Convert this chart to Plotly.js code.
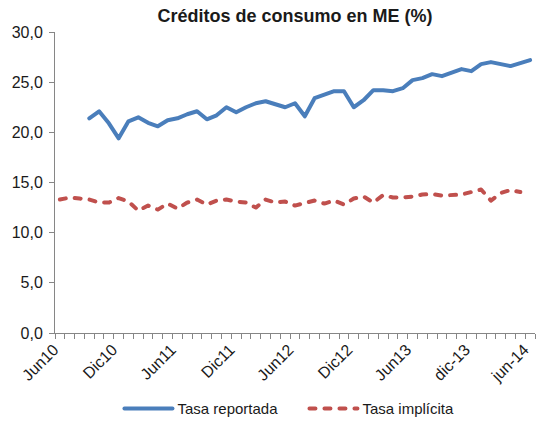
<!DOCTYPE html>
<html>
<head>
<meta charset="utf-8">
<script src="https://cdn.plot.ly/plotly-3.0.1.min.js"></script>
<style>html,body{margin:0;padding:0;background:#fff;}#chart{width:548px;height:429px;}</style>
</head>
<body>
<div id="chart"></div>
<script>
// Monthly categories, Jun 2010 – Jun 2014
var categories = [
  'Jun10','Jul10','Ago10','Sep10','Oct10','Nov10','Dic10',
  'Ene11','Feb11','Mar11','Abr11','May11','Jun11','Jul11','Ago11','Sep11','Oct11','Nov11','Dic11',
  'Ene12','Feb12','Mar12','Abr12','May12','Jun12','Jul12','Ago12','Sep12','Oct12','Nov12','Dic12',
  'Ene13','Feb13','Mar13','Abr13','May13','Jun13','Jul13','Ago13','Sep13','Oct13','Nov13','dic-13',
  'ene-14','feb-14','mar-14','abr-14','may-14','jun-14'
];
// Categories that carry a visible tick label
var labeledCategories = ['Jun10','Dic10','Jun11','Dic11','Jun12','Dic12','Jun13','dic-13','jun-14'];

var tasaReportada = [
  null, null, null, 21.4, 22.1, 20.9, 19.4,
  21.1, 21.5, 20.95, 20.6, 21.2, 21.4, 21.8, 22.1, 21.3, 21.7, 22.5, 22.0,
  22.5, 22.9, 23.1, 22.8, 22.5, 22.9, 21.6, 23.4, 23.7, 24.1, 24.1, 22.5,
  23.2, 24.2, 24.2, 24.1, 24.4, 25.2, 25.4, 25.8, 25.6, 25.9, 26.3, 26.1,
  26.8, 27.0, 26.8, 26.6, 26.9, 27.2
];
var tasaImplicita = [
  13.3, 13.5, 13.4, 13.3, 13.0, 13.0, 13.45,
  13.1, 12.2, 12.7, 12.3, 12.9, 12.4, 13.0, 13.3, 12.8, 13.2, 13.3, 13.1,
  13.0, 12.5, 13.3, 13.0, 13.1, 12.7, 13.0, 13.2, 12.9, 13.2, 12.8, 13.4,
  13.6, 13.0, 13.75, 13.5, 13.5, 13.6, 13.8, 13.85, 13.7, 13.8, 13.8, 14.05,
  14.3, 13.2, 13.95, 14.25, 14.05, null
];
var seriesNames = ['Tasa reportada', 'Tasa implícita'];

var tickText = categories.map(function (c) { return labeledCategories.indexOf(c) >= 0 ? c : ''; });

var FONT = '"Liberation Sans", Arial, sans-serif';
var TXT = '#1a1a1a';
var AX = '#868686';

var traces = [
  {
    x: categories, y: tasaReportada, name: seriesNames[0],
    type: 'scatter', mode: 'lines', connectgaps: false,
    line: {color: '#4a7ebb', width: 4}
  },
  {
    x: categories, y: tasaImplicita, name: seriesNames[1],
    type: 'scatter', mode: 'lines', connectgaps: false,
    line: {color: '#c0504d', width: 4, dash: '6px,9px'}
  }
];

var layout = {
  width: 548, height: 429,
  margin: {l: 55, r: 13, t: 32, b: 96},
  paper_bgcolor: '#ffffff', plot_bgcolor: '#ffffff',
  separators: ',.',
  font: {family: FONT, size: 14, color: TXT},
  title: {
    text: '<b>Créditos de consumo en ME (%)</b>',
    font: {family: FONT, size: 18, color: TXT},
    x: 0.5, xref: 'paper', xanchor: 'center',
    y: 18, yref: 'container', yanchor: 'middle'
  },
  xaxis: {
    type: 'category', automargin: false,
    categoryorder: 'array', categoryarray: categories,
    range: [-0.5, categories.length - 0.5],
    tickmode: 'array', tickvals: categories, ticktext: tickText,
    tickson: 'boundaries',
    ticks: 'outside', ticklen: 5, tickcolor: AX, tickwidth: 1,
    tickangle: -45, ticklabelshift: -6,
    tickfont: {family: FONT, size: 16, color: TXT},
    showline: true, linecolor: AX, linewidth: 1,
    showgrid: false, zeroline: false, fixedrange: true
  },
  yaxis: {
    automargin: false,
    range: [0, 30], tickmode: 'linear', tick0: 0, dtick: 5,
    tickformat: '.1f',
    ticks: 'outside', ticklen: 5, tickcolor: AX, tickwidth: 1,
    ticklabelstandoff: 3,
    tickfont: {family: FONT, size: 16, color: TXT},
    showline: true, linecolor: AX, linewidth: 1,
    showgrid: false, zeroline: false, fixedrange: true
  },
  showlegend: true,
  legend: {
    orientation: 'h',
    xref: 'container', yref: 'container',
    x: 0.218, xanchor: 'left',
    y: 0.047, yanchor: 'middle',
    font: {family: FONT, size: 15, color: TXT},
    itemwidth: 48, entrywidth: 122,
    bgcolor: 'rgba(0,0,0,0)'
  }
};

Plotly.newPlot('chart', traces, layout, {displayModeBar: false, staticPlot: true}).then(function (gd) {
  gd.querySelectorAll('path.js-line, .legendlines path').forEach(function (p) {
    p.style.strokeLinecap = 'round';
    p.style.strokeLinejoin = 'round';
  });
});
</script>
</body>
</html>
